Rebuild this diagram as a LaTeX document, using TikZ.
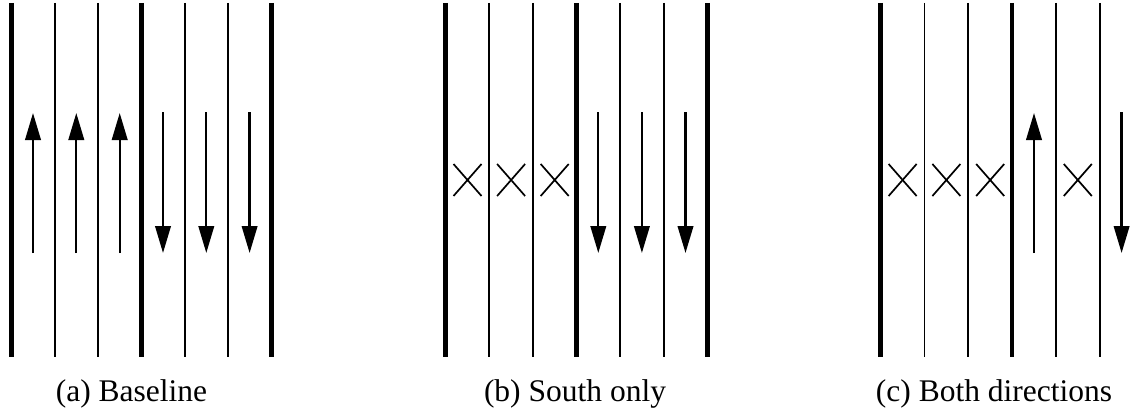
\documentclass[tikz,border=0pt]{standalone}
\usepackage{fontspec}
\setmainfont{Liberation Serif}
\usetikzlibrary{arrows.meta}
\begin{document}
\begin{tikzpicture}[x=1pt,y=-1pt,
  wall/.style={line width=4.5pt},
  lane/.style={line width=1.8pt},
  flow/.style={line width=2.3pt,-{Triangle[length=27pt,width=15.5pt]}},
  xmark/.style={line width=1.7pt},
  sublabel/.style={anchor=base,inner sep=0pt,font=\fontsize{31.5}{36}\selectfont}]
\useasboundingbox (0,0) rectangle (1140,412);
% ---------- panel walls/lanes ----------
\foreach \x/\s/\n in {11.3/43.33/7, 445.7/43.6/7, 880.7/43.8/6}{
  \pgfmathtruncatemacro{\last}{\n-1}
  \foreach \i in {0,...,\last}{
    \pgfmathsetmacro{\xx}{\x+\i*\s}
    \ifnum\i=0 \draw[wall] (\xx,3) -- (\xx,357);
    \else\ifnum\i=3 \draw[wall] (\xx,3) -- (\xx,357);
    \else\ifnum\i=6 \draw[wall] (\xx,3) -- (\xx,357);
    \else \draw[lane] (\xx,3) -- (\xx,357);
    \fi\fi\fi
  }
}
% ---------- panel (a) ----------
\foreach \x [count=\k] in {33,76.3,119.7}{
  \coordinate (ua\k) at (\x,253); \coordinate (va\k) at (\x,113);
  \draw[flow] (ua\k) -- (va\k);
}
\foreach \x [count=\k] in {163,206.3,249.6}{
  \coordinate (ub\k) at (\x,112); \coordinate (vb\k) at (\x,253);
  \draw[flow] (ub\k) -- (vb\k);
}
% ---------- panel (b) ----------
\foreach \x in {467.5,511.1,554.7}{
  \draw[xmark] (\x-14,164) -- (\x+14,196) (\x-14,196) -- (\x+14,164);
}
\foreach \x [count=\k] in {598.3,641.9,685.5}{
  \coordinate (uc\k) at (\x,112); \coordinate (vc\k) at (\x,253);
  \draw[flow] (uc\k) -- (vc\k);
}
% ---------- panel (c) ----------
\foreach \x in {902.6,946.4,990.2,1077.8}{
  \draw[xmark] (\x-14,164) -- (\x+14,196) (\x-14,196) -- (\x+14,164);
}
\coordinate (cu1) at (1034,253); \coordinate (cu2) at (1034,113);
\draw[flow] (cu1) -- (cu2);
\coordinate (cd1) at (1121.6,112); \coordinate (cd2) at (1121.6,253);
\draw[flow] (cd1) -- (cd2);
% ---------- captions ----------
\node[sublabel] (capa) at (131.5,401) {(a) Baseline};
\node[sublabel] (capb) at (575,401) {(b) South only};
\node[sublabel] (capc) at (994,401) {(c) Both directions};
\end{tikzpicture}
\end{document}
